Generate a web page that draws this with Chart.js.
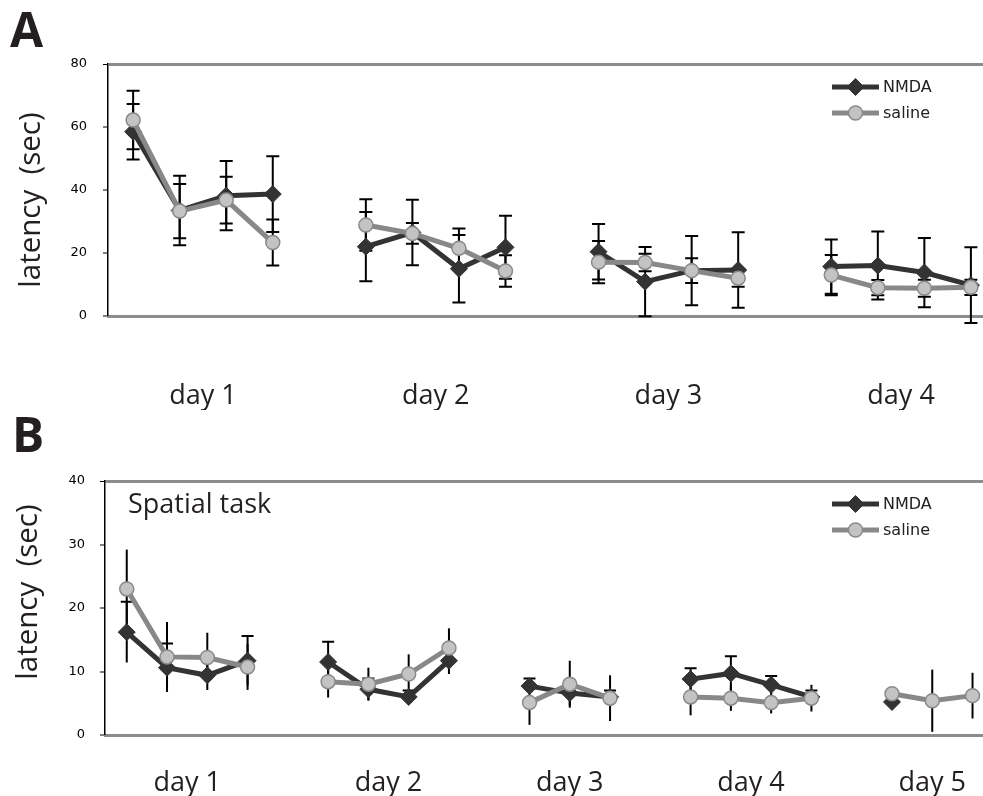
<!DOCTYPE html>
<html lang="en">
<head>
<meta charset="UTF-8">
<title>Latency NMDA vs saline</title>
<script src="https://cdn.jsdelivr.net/npm/chart.js"></script>
<style>
  html, body { margin: 0; padding: 0; background: #fff; overflow: hidden; }
  .panel { position: relative; width: 983px; }
  #panelA { height: 410px; }
  #panelB { height: 386px; }
</style>
</head>
<body>
<div class="panel" id="panelA"><canvas id="chartA"></canvas></div>
<div class="panel" id="panelB"><canvas id="chartB"></canvas></div>
<script>
// ---- panel A : 4 days x 4 trials ----
var daysA = ['day 1', 'day 2', 'day 3', 'day 4'];
var nmdaA = [[58.5, 33.5, 38.2, 38.7], [22.0, 26.5, 15.0, 21.8], [20.4, 10.9, 14.4, 14.6], [15.7, 16.0, 13.8, 9.8]];
var nmdaErrA = [[8.8, 11.0, 11.0, 12.0], [11.0, 10.4, 10.7, 10.0], [8.8, 11.0, 11.0, 12.0], [8.6, 10.8, 11.0, 12.0]];
var salineA = [[62.2, 33.3, 36.8, 23.3], [28.9, 26.2, 21.5, 14.3], [17.1, 17.0, 14.4, 12.0], [13.0, 9.0, 8.8, 9.1]];
var salineErrA = [[9.3, 8.6, 7.4, 7.3], [8.2, 3.3, 6.3, 5.0], [6.7, 2.8, 3.9, 2.7], [6.4, 2.4, 2.7, 2.4]];
var yTicksA = [0, 20, 40, 60, 80];

// ---- panel B : spatial task, 5 days ----
var daysB = ['day 1', 'day 2', 'day 3', 'day 4', 'day 5'];
var nmdaB = [[16.2, 10.6, 9.4, 11.7], [11.5, 7.2, 6.0, 11.7], [7.7, 6.6, 6.0], [8.8, 9.7, 7.9, 6.0], [5.2, null, null]];
var nmdaErrB = [[4.8, 3.8, 2.3, 3.9], [3.2, 1.7, 1.0, 2.1], [1.2, 2.0, 1.0], [1.7, 2.7, 1.4, 1.0], [1.2, null, null]];
var salineB = [[23.0, 12.3, 12.2, 10.7], [8.4, 8.0, 9.6, 13.7], [5.1, 8.0, 5.8], [6.0, 5.8, 5.1, 5.8], [6.5, 5.4, 6.2]];
var salineErrB = [[6.2, 5.5, 3.9, 3.6], [2.5, 2.6, 3.1, 3.1], [3.5, 3.7, 3.6], [2.9, 2.0, 1.7, 2.1], [1.0, 4.9, 3.6]];
var yTicksB = [0, 10, 20, 30, 40];

var textColor = '#231f20';

// trials laid out on a linear x axis, one empty slot between days
function buildSeries(values, errors) {
    var pts = [], errs = [], x = 0;
    values.forEach(function (day, d) {
        if (d > 0) { pts.push({x: x, y: null}); errs.push(null); x++; }
        day.forEach(function (v, i) {
            pts.push({x: x, y: v});
            errs.push(errors[d][i]);
            x++;
        });
    });
    return {pts: pts, errs: errs};
}

function dayCenters(values) {
    var c = [], x = 0;
    values.forEach(function (day) {
        c.push(x + (day.length - 1) / 2);
        x += day.length + 1;
    });
    return c;
}

var errorBars = {
    id: 'errorBars',
    beforeDatasetsDraw: function (chart) {
        var ctx = chart.ctx, xs = chart.scales.x, ys = chart.scales.y;
        ctx.save();
        ctx.strokeStyle = '#000';
        ctx.lineWidth = 2;
        chart.data.datasets.forEach(function (ds) {
            ds.data.forEach(function (p, i) {
                var e = ds.errors[i];
                if (p.y == null || e == null) return;
                var x = xs.getPixelForValue(p.x);
                var yt = ys.getPixelForValue(p.y + e);
                var yb = ys.getPixelForValue(p.y - e);
                ctx.beginPath();
                ctx.moveTo(x, yt);
                ctx.lineTo(x, yb);
                if (ds.capTop) { ctx.moveTo(x - ds.capTop / 2, yt); ctx.lineTo(x + ds.capTop / 2, yt); }
                if (ds.capBottom) { ctx.moveTo(x - ds.capBottom / 2, yb); ctx.lineTo(x + ds.capBottom / 2, yb); }
                ctx.stroke();
            });
        });
        ctx.restore();
    }
};

// legend with line + marker, y title, panel letter / note
var panelDecor = {
    id: 'panelDecor',
    afterDraw: function (chart, args, opts) {
        var ctx = chart.ctx, area = chart.chartArea;
        ctx.save();
        chart.data.datasets.forEach(function (ds, i) {
            var y = area.top + 23 + i * 26;
            var x0 = area.right - 151, x1 = area.right - 104;
            ctx.strokeStyle = ds.borderColor;
            ctx.lineWidth = ds.borderWidth;
            ctx.beginPath(); ctx.moveTo(x0, y); ctx.lineTo(x1, y); ctx.stroke();
            ctx.fillStyle = ds.pointBackgroundColor;
            ctx.strokeStyle = ds.pointBorderColor;
            ctx.lineWidth = ds.pointBorderWidth;
            Chart.helpers.drawPoint(ctx, {pointStyle: ds.pointStyle, radius: ds.pointRadius, borderWidth: ds.pointBorderWidth, rotation: 0}, (x0 + x1) / 2, y);
            ctx.fillStyle = '#222';
            ctx.font = '16px "DejaVu Sans"';
            ctx.textBaseline = 'middle';
            ctx.textAlign = 'left';
            ctx.fillText(ds.label, x1 + 4, y + 1);
        });
        ctx.fillStyle = textColor;
        ctx.textBaseline = 'alphabetic';
        ctx.font = 'bold 48px "Open Sans"';
        ctx.fillText(opts.letter, opts.letterX, opts.letterY);
        if (opts.note) {
            ctx.font = '27px "Open Sans"';
            ctx.fillText(opts.note, opts.noteX, opts.noteY);
        }
        // y axis title
        ctx.translate(opts.titleX, opts.titleY);
        ctx.rotate(-Math.PI / 2);
        ctx.textAlign = 'center';
        ctx.textBaseline = 'middle';
        ctx.font = '29.5px "Open Sans"';
        ctx.fillText('latency  (sec)', 0, 0);
        ctx.restore();
    }
};

function makeChart(id, cfg) {
    var n = buildSeries(cfg.nmda, cfg.nmdaErr);
    var s = buildSeries(cfg.saline, cfg.salineErr);
    var centers = dayCenters(cfg.saline);
    var yMax = cfg.yTicks[cfg.yTicks.length - 1];
    return new Chart(document.getElementById(id).getContext('2d'), {
        type: 'line',
        data: {
            datasets: [{
                label: 'NMDA',
                data: n.pts,
                errors: n.errs,
                capTop: cfg.capNmda[0],
                capBottom: cfg.capNmda[1],
                order: 1,
                clip: false,
                borderColor: '#333333',
                borderWidth: 5,
                pointStyle: 'rectRot',
                pointRadius: 8.5,
                pointBackgroundColor: '#333333',
                pointBorderColor: '#333333',
                pointBorderWidth: 1
            }, {
                label: 'saline',
                data: s.pts,
                errors: s.errs,
                capTop: cfg.capSaline[0],
                capBottom: cfg.capSaline[1],
                order: 0,
                clip: false,
                borderColor: '#888888',
                borderWidth: 5,
                pointStyle: 'circle',
                pointRadius: 7,
                pointBackgroundColor: '#c3c3c3',
                pointBorderColor: '#8a8a8a',
                pointBorderWidth: 1.5
            }]
        },
        options: {
            responsive: true,
            maintainAspectRatio: false,
            animation: false,
            spanGaps: false,
            layout: { autoPadding: false, padding: { top: cfg.top, right: 0, left: 0, bottom: 0 } },
            plugins: {
                legend: { display: false },
                tooltip: { enabled: false },
                panelDecor: cfg.decor
            },
            scales: {
                x: {
                    type: 'linear',
                    min: -0.54,
                    max: cfg.xMax,
                    grid: { display: false },
                    border: { display: true, color: '#8c8c8c', width: 3 },
                    afterBuildTicks: function (scale) {
                        scale.ticks = centers.map(function (v) { return {value: v}; });
                    },
                    afterFit: function (scale) {
                        scale.height = cfg.xHeight;
                        scale.paddingLeft = 0;
                        scale.paddingRight = 0;
                    },
                    ticks: {
                        autoSkip: false,
                        maxRotation: 0,
                        padding: cfg.xPad,
                        color: textColor,
                        font: { family: '"Open Sans"', size: 27 },
                        callback: function (v, i) { return cfg.days[i]; }
                    }
                },
                y: {
                    min: 0,
                    max: yMax,
                    afterBuildTicks: function (scale) {
                        scale.ticks = cfg.yTicks.map(function (v) { return {value: v}; });
                    },
                    afterFit: function (scale) { scale.width = cfg.yWidth; },
                    border: { display: true, color: '#000', width: 1.5 },
                    grid: {
                        color: function (c) { return c.tick && c.tick.value === yMax ? '#8c8c8c' : 'rgba(0,0,0,0)'; },
                        lineWidth: function (c) { return c.tick && c.tick.value === yMax ? 3 : 0; },
                        tickColor: '#000',
                        tickWidth: 1,
                        tickLength: 5
                    },
                    ticks: {
                        padding: cfg.yPad,
                        color: '#000',
                        font: { family: '"DejaVu Sans"', size: 13 }
                    }
                }
            }
        },
        plugins: [errorBars, panelDecor]
    });
}

makeChart('chartA', {
    days: daysA, nmda: nmdaA, nmdaErr: nmdaErrA, saline: salineA, salineErr: salineErrA, yTicks: yTicksA,
    capNmda: [13, 13], capSaline: [13, 13],
    top: 64, xHeight: 94, yWidth: 108, xMax: 18.26, xPad: 56, yPad: 16,
    decor: { letter: 'A', letterX: 10, letterY: 47, titleX: 32, titleY: 200 }
});

makeChart('chartB', {
    days: daysB, nmda: nmdaB, nmdaErr: nmdaErrB, saline: salineB, salineErr: salineErrB, yTicks: yTicksB,
    capNmda: [12, 0], capSaline: [0, 0],
    top: 71, xHeight: 61, yWidth: 105, xMax: 21.26, xPad: 24, yPad: 15,
    decor: { letter: 'B', letterX: 12, letterY: 42, note: 'Spatial task', noteX: 128, noteY: 103, titleX: 29, titleY: 182 }
});
</script>
</body>
</html>
